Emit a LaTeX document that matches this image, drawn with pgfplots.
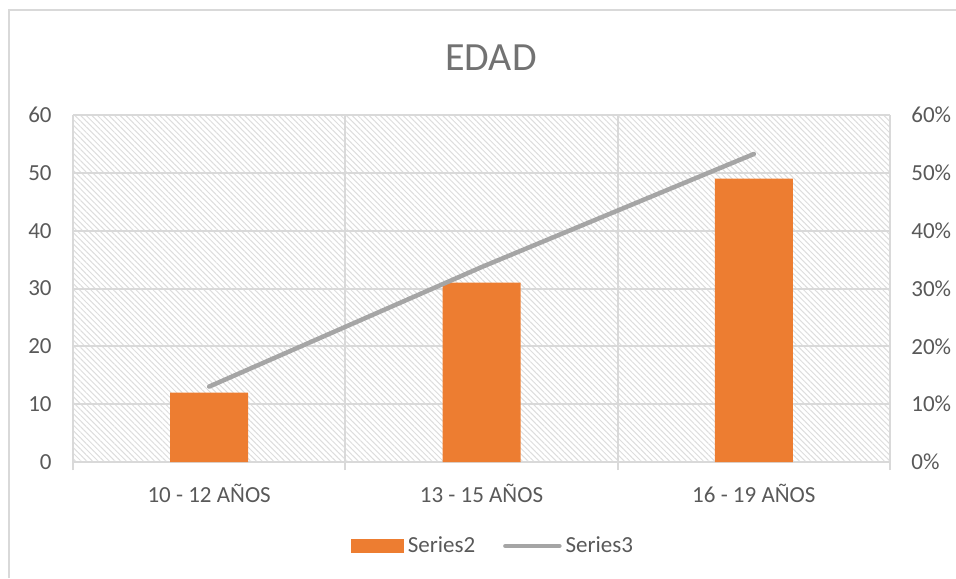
\documentclass[border=0pt]{standalone}
\usepackage{pgfplots}
\pgfplotsset{compat=1.18}
\usepackage{fontspec}
\setmainfont{Carlito}
\usetikzlibrary{patterns.meta}
\definecolor{xlorange}{HTML}{ED7D31}
\definecolor{xlgray}{HTML}{A5A5A5}
\definecolor{gridc}{HTML}{D9D9D9}
\definecolor{txt}{HTML}{595959}
\definecolor{hatch}{HTML}{DDDDDD}

\pgfplotsset{
  base/.style={
    at={(36.5pt,58pt)}, anchor=south west,
    scale only axis, width=408.5pt, height=173.5pt,
    xmin=-0.5, xmax=2.5,
    major tick length=0pt,
    tick label style={font=\fontsize{11.5pt}{13pt}\selectfont, text=txt, inner sep=0pt},
    axis line style={draw=none},
    ytick style={draw=none},
  },
  barlegend/.style={legend image code/.code={\fill[xlorange] (0pt,-3.25pt) rectangle (26pt,3.25pt);}},
  linelegend/.style={legend image code/.code={\draw[##1] (0pt,0pt) -- (27pt,0pt);}},
}

\begin{document}
\begin{tikzpicture}
\useasboundingbox (0,0) rectangle (478pt,289pt);
\draw[gridc, line width=0.6pt] (4.5pt,0) -- (4.5pt,284pt) -- (478pt,284pt);

\begin{axis}[base,
  axis background/.style={pattern={Lines[angle=-45,distance=2pt,line width=0.5pt]}, pattern color=hatch},
  ybar, bar width=39pt,
  ymin=0, ymax=60,
  axis x line*=bottom, axis y line*=left,
  xtick={0,1,2},
  xticklabels={10 - 12 AÑOS, 13 - 15 AÑOS, 16 - 19 AÑOS},
  xticklabel style={anchor=base, yshift=-20pt},
  minor xtick={-0.5,0.5,1.5,2.5},
  minor tick length=4pt, tick align=outside,
  minor x tick style={gridc, line width=1pt},
  xminorgrids, ymajorgrids,
  grid style={gridc, line width=1pt},
  minor grid style={gridc, line width=1pt},
  ytick={0,10,20,30,40,50,60},
  yticklabels={0,10,20,30,40,50,60},
  yticklabel style={anchor=east, xshift=-10.5pt},
]
\addplot[fill=xlorange, draw=none] coordinates {(0,12) (1,31) (2,49)};
\end{axis}

\begin{axis}[base,
  ymin=0, ymax=0.6,
  axis x line=none, axis y line*=right,
  ytick={0,0.1,0.2,0.3,0.4,0.5,0.6},
  yticklabels={0\%,10\%,20\%,30\%,40\%,50\%,60\%},
  yticklabel style={anchor=west, xshift=10.5pt},
  legend style={at={(rel axis cs:0.5,0)}, anchor=center, yshift=-42pt, xshift=6.25pt,
    draw=none, fill=none, font=\fontsize{11.5pt}{13pt}\selectfont, text=txt,
    legend columns=2, /tikz/every even column/.append style={column sep=12pt},
    inner sep=0pt},
]
\addlegendimage{barlegend}
\addlegendentry{Series2}
\addplot[xlgray, line width=2.25pt, line cap=round, linelegend]
  coordinates {(0,0.1304) (1,0.3370) (2,0.5326)};
\addlegendentry{Series3}
\end{axis}

\node[font=\fontsize{20pt}{24pt}\selectfont, text=txt!85] at (245.5pt,260.25pt) {EDAD};
\end{tikzpicture}
\end{document}
